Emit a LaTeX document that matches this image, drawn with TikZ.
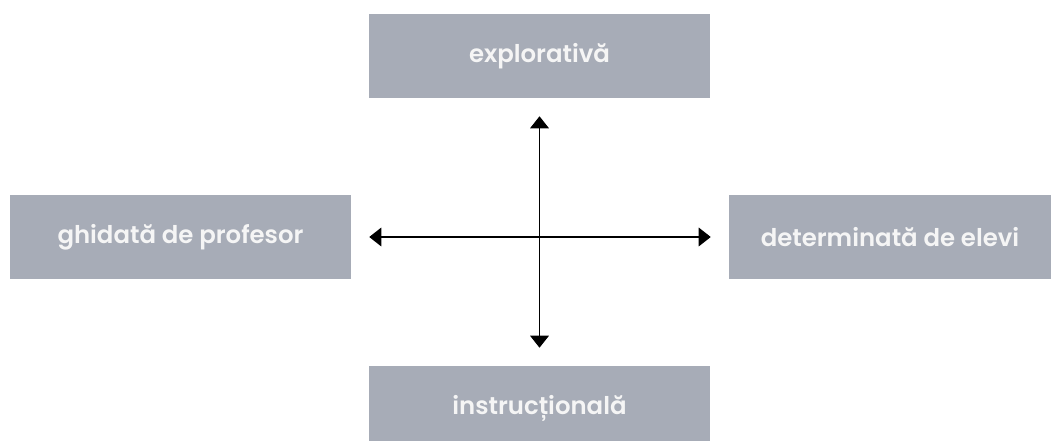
\documentclass[tikz,border=0pt]{standalone}
\usepackage{fontspec}
\setmainfont{Poppins}[BoldFont={Poppins SemiBold}]
\usepackage{xcolor}
\usepackage{tikz}
\usetikzlibrary{arrows.meta,backgrounds}
\definecolor{kastengrau}{RGB}{167,172,183}

\begin{document}
\begin{tikzpicture}[x=0.75pt,y=-0.75pt,
  kasten/.style={fill=kastengrau,text=white!96!black,minimum width=255.75pt,minimum height=63pt,inner sep=0pt,font=\bfseries\fontsize{18.3}{21}\selectfont},
  pfeil/.style={{Triangle[width=14pt,length=9pt]}-{Triangle[width=14pt,length=9pt]},line width=0.8pt,shorten <=13.5pt,shorten >=13.5pt}]
\useasboundingbox (0,0) rectangle (1056,441);
\node[kasten] (explorativa) at (539.5,56) {explorativă};
\node[kasten] (instructionala) at (539.5,408) {instrucțională};
\node[kasten] (ghidata) at (180.5,237) {ghidată de profesor};
\node[kasten,minimum width=241.5pt] (determinata) at (890,237) {determinată de elevi};
% axes
\draw[pfeil] (explorativa.south) -- (instructionala.north);
\draw[pfeil] (ghidata.east) -- (determinata.west);
\end{tikzpicture}
\end{document}
